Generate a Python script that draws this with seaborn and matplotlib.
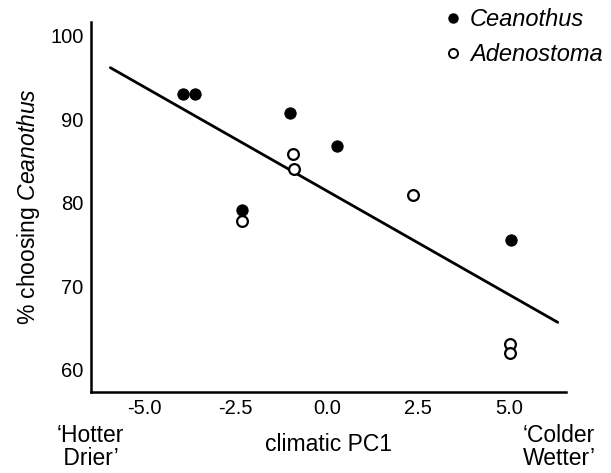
import matplotlib
matplotlib.use('Agg')
import matplotlib.pyplot as plt
import pandas as pd
import seaborn as sns
from matplotlib.lines import Line2D

#%% data
ceanothus_pc1 = [-3.95, -3.62, -1.0, 0.29, -2.33, 5.05]
ceanothus_pct = [93.0, 93.0, 90.8, 86.8, 79.2, 75.6]

adenostoma_pc1 = [-0.94, -0.89, -2.33, 2.37, 5.03, 5.03]
adenostoma_pct = [85.9, 84.1, 77.8, 80.9, 63.1, 62.0]

# fitted regression line end points
fit_pc1 = [-5.94, 6.34]
fit_pct = [96.2, 65.7]

xticks = [-5.0, -2.5, 0.0, 2.5, 5.0]
yticks = [60, 70, 80, 90, 100]

cea = pd.DataFrame({'pc1': ceanothus_pc1, 'pct': ceanothus_pct})
ade = pd.DataFrame({'pc1': adenostoma_pc1, 'pct': adenostoma_pct})
fit = pd.DataFrame({'pc1': fit_pc1, 'pct': fit_pct})

#%% style
sns.set_style('white')
plt.rcParams['font.family'] = ['Liberation Sans', 'DejaVu Sans']
plt.rcParams['mathtext.fontset'] = 'custom'
plt.rcParams['mathtext.rm'] = 'Liberation Sans'
plt.rcParams['mathtext.it'] = 'Liberation Sans:italic'
for key in ['text.color', 'axes.labelcolor', 'xtick.color', 'ytick.color']:
    plt.rcParams[key] = 'black'
fs_tick = 14.5
fs_lab = 16.5
fs_leg = 17

#%% graph
fig = plt.figure(figsize=(6.11, 4.73), dpi=100)
ax = fig.add_axes([0.149, 0.172, 0.777, 0.782])

sns.lineplot(data=fit, x='pc1', y='pct', color='black', linewidth=2, ax=ax)
sns.scatterplot(data=cea, x='pc1', y='pct', color='black', edgecolor='black',
                s=65, linewidth=0.8, ax=ax, zorder=3)
sns.scatterplot(data=ade, x='pc1', y='pct', color='white', edgecolor='black',
                s=60, linewidth=1.6, ax=ax, zorder=3)

ax.set(xlim=(-6.47, 6.56), ylim=(57.4, 101.7))
ax.set_xticks(xticks)
ax.set_xticklabels([f'{t:.1f}' for t in xticks], fontsize=fs_tick)
ax.set_yticks(yticks)
ax.set_yticklabels([str(t) for t in yticks], fontsize=fs_tick)
ax.tick_params(length=0, pad=5.5)
sns.despine(ax=ax)
for sp in ['left', 'bottom']:
    ax.spines[sp].set_color('black')
    ax.spines[sp].set_linewidth(1.8)

ax.set_xlabel('climatic PC1', fontsize=fs_lab)
ax.xaxis.set_label_coords(0.5, -0.144)
ax.xaxis.label.set_va('center')
ax.set_ylabel('% choosing $\\mathit{Ceanothus}$', fontsize=fs_lab)
ax.yaxis.set_label_coords(-0.131, 0.5)
ax.yaxis.label.set_va('center')

# end labels of the PC axis
fig.text(57 / 611, 1 - 447 / 473, '\u2018Hotter\n Drier\u2019', ha='left', va='center',
         fontsize=fs_lab, linespacing=1.05)
fig.text(523 / 611, 1 - 447 / 473, '\u2018Colder\nWetter\u2019', ha='left', va='center',
         fontsize=fs_lab, linespacing=1.05)

# legend
legend_elements = [Line2D([0], [0], marker='o', color='none', markerfacecolor='black',
                          markeredgecolor='black', markersize=6.5, label='Ceanothus'),
                   Line2D([0], [0], marker='o', color='none', markerfacecolor='white',
                          markeredgecolor='black', markeredgewidth=1.4, markersize=6.5,
                          label='Adenostoma')]
fig.legend(handles=legend_elements, loc='upper left', bbox_to_anchor=(0.688, 1.027),
           frameon=False, handletextpad=0.2, handlelength=1.0, labelspacing=0.48,
           prop={'style': 'italic', 'size': fs_leg, 'family': 'Liberation Sans'})

plt.savefig('out.png', dpi=100)
